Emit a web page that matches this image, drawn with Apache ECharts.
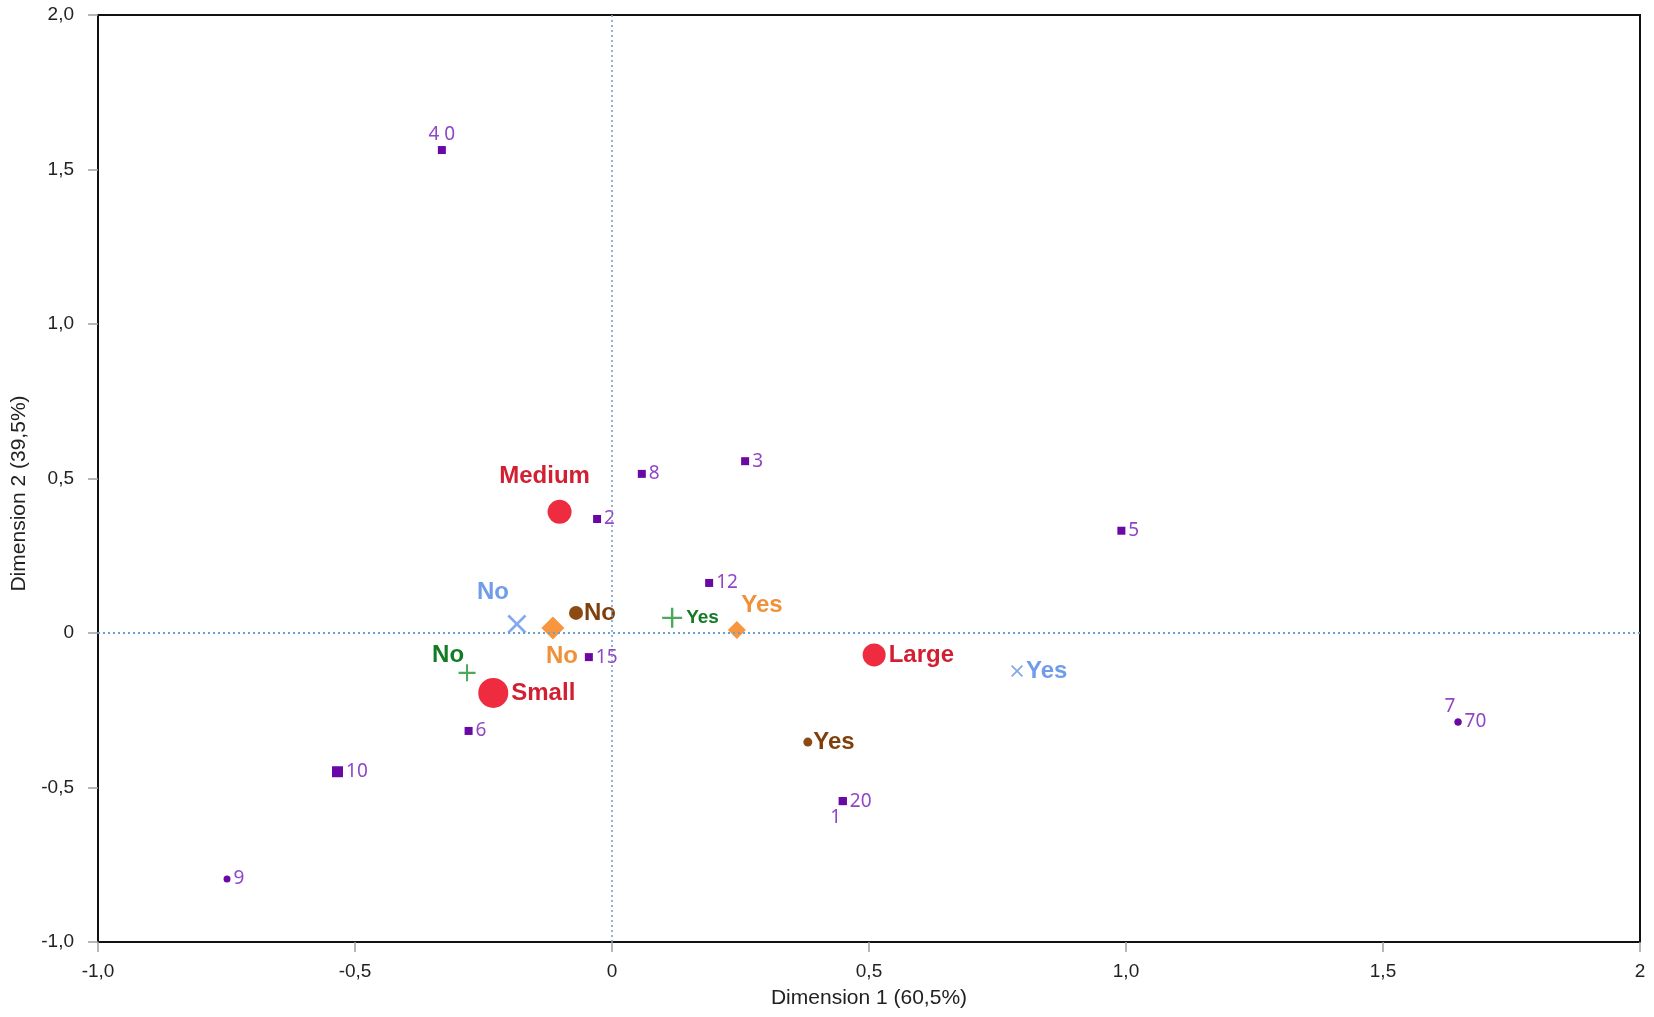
<!DOCTYPE html>
<html>
<head>
<meta charset="utf-8">
<script src="https://cdn.jsdelivr.net/npm/echarts@6/dist/echarts.min.js"></script>
<style>html,body{margin:0;padding:0;background:#fff}#c{width:1654px;height:1017px}</style>
</head>
<body>
<div id="c"></div>
<script>
// ---- data ----
const obsNames = ['4 0','8','3','2','5','12','15','6','10','9','7','70','1','20'];
const obsX = [-0.331, 0.058, 0.259, -0.029, 0.991, 0.189, -0.045, -0.279, -0.534, -0.749, 1.646, 1.646, 0.449, 0.449];
const obsY = [1.563, 0.515, 0.556, 0.369, 0.331, 0.162, -0.078, -0.317, -0.449, -0.796, -0.288, -0.288, -0.544, -0.544];

const sizeNames = ['Medium','Small','Large'];
const sizeX = [-0.102, -0.231, 0.510];
const sizeY = [0.392, -0.194, -0.071];

const blueNames = ['No','Yes'];
const blueX = [-0.185, 0.788];
const blueY = [0.029, -0.123];

const orangeNames = ['No','Yes'];
const orangeX = [-0.115, 0.243];
const orangeY = [0.016, 0.010];

const brownNames = ['No','Yes'];
const brownX = [-0.070, 0.381];
const brownY = [0.065, -0.353];

const greenNames = ['No','Yes'];
const greenX = [-0.282, 0.117];
const greenY = [-0.129, 0.049];

const xTicks = [-1, -0.5, 0, 0.5, 1, 1.5, 2];
const yTicks = [-1, -0.5, 0, 0.5, 1, 1.5, 2];

// ---- styles (positions / sizes, not data) ----
const obsStyle = {
  '4 0': {label: {position: 'inside', offset: [0, -15]}},
  '9':   {symbol: 'circle', size: 7},
  '7':   {symbol: 'circle', size: 7, label: {position: 'inside', offset: [-8, -15]}},
  '70':  {symbol: 'circle', size: 7},
  '1':   {label: {position: 'inside', offset: [-7, 16]}},
  '10':  {size: 11}
};
const sizeStyle = {Medium: {size: 24, label: {position: 'inside', offset: [-15, -35]}}, Small: {size: 30}, Large: {size: 23}};
const blueStyle = {No: {size: 19, label: {position: 'inside', offset: [-24, -32]}}, Yes: {size: 12}};
const orangeStyle = {No: {size: 23, label: {position: 'inside', offset: [9, 28]}}, Yes: {size: 18, label: {position: 'inside', offset: [25, -25]}}};
const brownStyle = {No: {size: 14}, Yes: {size: 9}};
const greenStyle = {No: {size: 17, label: {position: 'inside', offset: [-19, -17]}}, Yes: {size: 20, fontSize: 19}};

const X_PATH = 'path://M1,0 L5,4 L9,0 L10,1 L6,5 L10,9 L9,10 L5,6 L1,10 L0,9 L4,5 L0,1 Z';
const PLUS_PATH = 'path://M4.4,0 H5.6 V4.4 H10 V5.6 H5.6 V10 H4.4 V5.6 H0 V4.4 H4.4 Z';

function buildSeries(names, xs, ys, styles, base) {
  const data = names.map((n, i) => {
    const st = styles[n] || {};
    return {
      name: n,
      value: [xs[i], ys[i]],
      symbol: st.symbol || base.symbol,
      symbolSize: st.size || base.size,
      label: Object.assign({
        show: true,
        formatter: n,
        position: 'right',
        distance: base.distance,
        color: base.labelColor,
        fontSize: st.fontSize || base.fontSize,
        fontWeight: base.fontWeight,
        fontFamily: base.fontFamily
      }, st.label || {})
    };
  });
  return {
    type: 'scatter',
    data: data,
    itemStyle: {color: base.color, opacity: 1},
    emphasis: {disabled: true},
    z: base.z || 3
  };
}

const catFont = {fontSize: 24, fontWeight: 'bold', fontFamily: 'Liberation Sans, Arial, sans-serif', distance: 3};

const series = [
  Object.assign(buildSeries(obsNames, obsX, obsY, obsStyle, {
    symbol: 'rect', size: 8, color: '#6a08a6', labelColor: '#9146c6',
    fontSize: 19, fontWeight: 'normal', fontFamily: 'Noto Sans, sans-serif', distance: 3
  }), {
    markLine: {
      silent: true, symbol: 'none', label: {show: false},
      data: [
        {yAxis: 0, lineStyle: {type: [2, 3], color: '#6a9fd4', width: 2}},
        {xAxis: 0, lineStyle: {type: [2, 3], color: '#7a9ed0', width: 1.6}}
      ]
    }
  }),
  buildSeries(sizeNames, sizeX, sizeY, sizeStyle, Object.assign({symbol: 'circle', size: 24, color: '#ee2b3f', labelColor: '#d21f31'}, catFont)),
  buildSeries(blueNames, blueX, blueY, blueStyle, Object.assign({symbol: X_PATH, size: 14, color: '#82a8ee', labelColor: '#719ce9'}, catFont)),
  buildSeries(orangeNames, orangeX, orangeY, orangeStyle, Object.assign({symbol: 'diamond', size: 16, color: '#f7963f', labelColor: '#f0913a'}, catFont)),
  buildSeries(brownNames, brownX, brownY, brownStyle, Object.assign({symbol: 'circle', size: 12, color: '#8c4b12', labelColor: '#7e3f0b'}, catFont, {distance: 1})),
  buildSeries(greenNames, greenX, greenY, greenStyle, Object.assign({symbol: PLUS_PATH, size: 17, color: '#4aa95a', labelColor: '#137a26'}, catFont, {distance: 4}))
];

function fmtX(v) {
  if (Math.abs(v) < 1e-9) return '0';
  if (Math.abs(v - 2) < 1e-9) return '2';
  return v.toFixed(1).replace('.', ',');
}
function fmtY(v) {
  if (Math.abs(v) < 1e-9) return '0';
  return v.toFixed(1).replace('.', ',');
}

const chart = echarts.init(document.getElementById('c'), null, {renderer: 'canvas'});
chart.setOption({
  backgroundColor: '#fff',
  animation: false,
  grid: {left: 98, right: 14, top: 15, bottom: 75, show: true, borderColor: '#111', borderWidth: 2, containLabel: false},
  xAxis: {
    type: 'value', min: xTicks[0], max: xTicks[xTicks.length - 1], interval: 0.5,
    name: 'Dimension 1 (60,5%)', nameLocation: 'middle', nameGap: 46,
    nameTextStyle: {fontSize: 21, color: '#222', fontFamily: 'Liberation Sans, Arial, sans-serif'},
    axisLine: {show: true, onZero: false, lineStyle: {color: '#111', width: 2}},
    axisTick: {show: true, inside: false, length: 10, lineStyle: {color: '#a0a0a0', width: 1.5}},
    axisLabel: {formatter: fmtX, fontSize: 19, color: '#222', margin: 20, fontFamily: 'Liberation Sans, Arial, sans-serif'},
    splitLine: {show: false}
  },
  yAxis: {
    type: 'value', min: yTicks[0], max: yTicks[yTicks.length - 1], interval: 0.5,
    name: 'Dimension 2 (39,5%)', nameLocation: 'middle', nameGap: 68,
    nameTextStyle: {fontSize: 21, color: '#222', fontFamily: 'Liberation Sans, Arial, sans-serif', padding: [0, 30, 0, 0]},
    axisLine: {show: true, onZero: false, lineStyle: {color: '#111', width: 2}},
    axisTick: {show: true, inside: false, length: 10, lineStyle: {color: '#a0a0a0', width: 1.5}},
    axisLabel: {formatter: fmtY, fontSize: 19, color: '#222', margin: 24, fontFamily: 'Liberation Sans, Arial, sans-serif'},
    splitLine: {show: false}
  },
  series: series
});
</script>
</body>
</html>
